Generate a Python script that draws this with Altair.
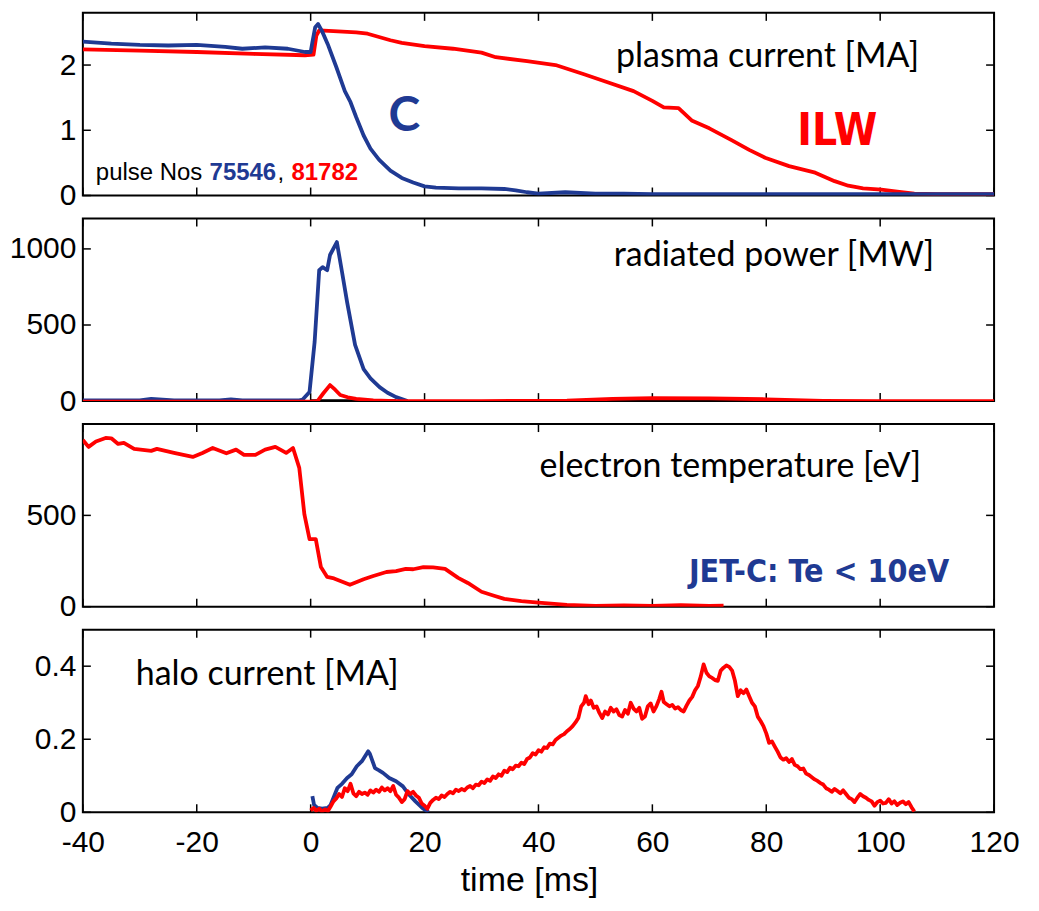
import altair as alt
import pandas as pd

# ---------------- data ----------------
x_ticks = [-40, -20, 0, 20, 40, 60, 80, 100, 120]

# plasma current [MA]
ip_c_t = [-40, -35, -30, -25, -20, -15, -12, -8, -4, -1, 0, 0.3, 0.8, 1.3, 2, 3, 4.5, 6, 7, 8, 9.3, 10.5,
          12, 14, 16, 18, 20, 22, 26, 30, 34, 36, 38, 40, 44.7, 50, 55, 60, 70, 80, 90, 100, 110, 120]
ip_c_v = [2.36, 2.33, 2.31, 2.30, 2.31, 2.28, 2.25, 2.27, 2.25, 2.20, 2.20, 2.35, 2.58, 2.63, 2.52, 2.32, 1.97,
          1.60, 1.43, 1.20, 0.92, 0.72, 0.55, 0.38, 0.27, 0.20, 0.14, 0.12, 0.11, 0.11, 0.10, 0.08, 0.05, 0.03,
          0.05, 0.03, 0.03, 0.02, 0.02, 0.02, 0.02, 0.02, 0.02, 0.02]
ip_w_t = [-40, -30, -20, -10, -1, 0.5, 1.0, 1.5, 4, 8, 10, 12, 14, 16, 20, 25, 30, 32.5, 38, 43, 48, 52, 56.7,
          60, 62, 64.6, 66.9, 70, 73.9, 77, 79.8, 84, 88.6, 92, 94.4, 97, 100.2, 103, 106, 110, 120]
ip_w_v = [2.24, 2.22, 2.20, 2.17, 2.15, 2.16, 2.45, 2.53, 2.52, 2.50, 2.48, 2.43, 2.38, 2.34, 2.29, 2.25, 2.19,
          2.12, 2.06, 2.00, 1.86, 1.74, 1.60, 1.45, 1.35, 1.34, 1.15, 1.03, 0.85, 0.70, 0.58, 0.45, 0.35, 0.22,
          0.15, 0.11, 0.09, 0.06, 0.03, 0.02, 0.02]

# radiated power [MW]
prad_c_t = [-40, -30, -28, -26, -24, -16, -14, -12, -2, -1.4, -0.2, 0.7, 1.5, 2.1, 2.9, 3.4, 4.6, 5.5, 6.4, 7.8,
            9.3, 10.5, 12.1, 13.5, 15, 17]
prad_c_v = [5, 5, 15, 10, 5, 5, 12, 5, 5, 10, 60, 390, 860, 880, 860, 960, 1045, 850, 650, 370, 210, 150, 92,
            55, 26, 0]
prad_w_t = [-40, -20, 0, 1.2, 2.2, 3.4, 4.3, 5.2, 6.5, 8, 11, 15, 30, 45, 53, 60, 70, 80, 90, 100, 120]
prad_w_v = [-3, -3, -3, 0, 50, 105, 75, 40, 25, 15, 5, 0, 0, 3, 15, 20, 18, 12, 2, 0, 0]
prad_k_t = [0, 15]
prad_k_v = [0, 0]

# electron temperature [eV]
te_w_t = [-40, -39, -37.7, -36, -35, -33.8, -32.8, -31, -28, -27, -24, -20.7, -19, -17.2, -14.8, -13.1, -11.7,
          -9.7, -8, -6.2, -4.3, -3.1, -2, -1.1, -0.2, 0.9, 1.8, 2.9, 4.1, 6.9, 9.3, 11, 13.3, 15, 16.7, 18,
          19.8, 21.5, 23.6, 25.9, 27.6, 30, 32.2, 34, 37, 40, 45, 50, 55, 60, 65, 70, 72.5]
te_w_v = [913, 875, 905, 924, 922, 891, 897, 864, 853, 864, 842, 820, 842, 869, 840, 860, 831, 831, 860, 875,
          842, 869, 760, 505, 370, 370, 217, 163, 155, 120, 150, 168, 190, 195, 207, 205, 217, 215, 207, 158,
          130, 82, 60, 43, 30, 22, 10, 5, 7, 5, 8, 5, 6]

# halo current [MA]
halo_c_t = [0.3, 0.6, 1.2, 2, 3, 3.5, 4.7, 5.5, 6.4, 7.2, 8.1, 9, 10.1, 10.4, 11.3, 12, 12.7, 13.8, 15, 16.2,
            17.3, 18.4, 19.6, 20.7]
halo_c_v = [0.044, 0.02, 0.012, 0.01, 0.012, 0.02, 0.067, 0.078, 0.094, 0.104, 0.126, 0.14, 0.167, 0.16, 0.121,
            0.115, 0.108, 0.094, 0.085, 0.071, 0.048, 0.03, 0.012, 0.0]
halo_w_t = [0, 0.5, 1, 1.5, 2, 2.5, 3, 3.5, 4, 4.5, 5, 5.5, 6, 6.5, 7, 7.5, 8, 8.5, 9, 9.5, 10, 10.5, 11, 11.5,
            12, 12.5, 13, 13.5, 14, 14.5, 15, 15.5, 16, 16.5, 17, 17.5, 18, 18.5, 19, 19.5, 20, 20.5, 21, 21.5,
            22, 22.5, 23, 23.5, 24, 24.5, 25, 25.5, 26, 26.5, 27, 27.5, 28, 28.5, 29, 29.5, 30, 30.5, 31, 31.5,
            32, 32.5, 33, 33.5, 34, 34.5, 35, 35.5, 36, 36.5, 37, 37.5, 38, 38.5, 39, 39.5, 40, 40.5, 41, 41.5,
            42, 42.5, 43, 43.5, 44, 44.5, 45, 45.5, 46, 46.5, 47, 47.5, 48, 48.3, 48.8, 49.2, 49.7, 50.2, 50.7,
            51.2, 51.7, 52.2, 52.7, 53.2, 53.7, 54.2, 54.7, 55.2, 55.7, 56.2, 56.7, 57.2, 57.7, 58.2, 58.7, 59.2,
            59.7, 60.2, 60.7, 61.2, 61.6, 62.0, 62.5, 63.0, 63.5, 64.0, 64.5, 65.0, 65.5, 66.0, 66.5, 67.0, 67.5,
            68.0, 68.5, 69.0, 69.5, 70.0, 70.5, 71.0, 71.5, 72.0, 72.5, 73.0, 73.5, 74.0, 74.5, 75.0, 75.5, 76.0,
            76.5, 77.0, 77.5, 78.0, 78.5, 79.0, 79.5, 80.0, 80.5, 81.0, 81.5, 82.0, 82.5, 83.0, 83.5, 84.0, 84.5,
            85.0, 85.5, 86.0, 86.5, 87.0, 87.5, 88.0, 88.5, 89.0, 89.5, 90.0, 90.5, 91.0, 91.5, 92.0, 92.5, 93.0,
            93.5, 94.0, 94.5, 95.0, 95.5, 96.0, 96.5, 97.0, 97.5, 98.0, 98.5, 99.0, 99.5, 100.0, 100.5, 101.0,
            101.5, 102.0, 102.5, 103.0, 103.5, 104.0, 104.5, 105.0, 105.5, 106.0]
halo_w_v = [0.005, 0.012, 0.004, 0.010, 0.002, 0.008, 0.003, 0.016, 0.030, 0.038, 0.050, 0.042, 0.066, 0.058,
            0.078, 0.052, 0.044, 0.056, 0.050, 0.054, 0.048, 0.060, 0.054, 0.062, 0.056, 0.068, 0.060, 0.066,
            0.058, 0.072, 0.048, 0.040, 0.028, 0.036, 0.058, 0.050, 0.056, 0.046, 0.040, 0.024, 0.018, 0.010,
            0.026, 0.034, 0.040, 0.036, 0.046, 0.042, 0.050, 0.056, 0.052, 0.062, 0.058, 0.064, 0.060, 0.068,
            0.072, 0.066, 0.076, 0.074, 0.084, 0.080, 0.090, 0.086, 0.098, 0.094, 0.104, 0.100, 0.114, 0.110,
            0.122, 0.118, 0.128, 0.126, 0.136, 0.132, 0.146, 0.150, 0.162, 0.158, 0.170, 0.166, 0.178, 0.176,
            0.188, 0.186, 0.198, 0.204, 0.210, 0.214, 0.222, 0.228, 0.236, 0.246, 0.258, 0.290, 0.300, 0.318,
            0.296, 0.306, 0.286, 0.290, 0.272, 0.258, 0.276, 0.268, 0.286, 0.276, 0.282, 0.266, 0.262, 0.280,
            0.270, 0.300, 0.284, 0.276, 0.286, 0.256, 0.262, 0.290, 0.298, 0.276, 0.290, 0.310, 0.330, 0.302,
            0.296, 0.290, 0.294, 0.284, 0.288, 0.280, 0.276, 0.292, 0.306, 0.316, 0.334, 0.346, 0.372, 0.405,
            0.382, 0.372, 0.368, 0.362, 0.360, 0.388, 0.396, 0.402, 0.398, 0.388, 0.360, 0.318, 0.334, 0.326,
            0.336, 0.318, 0.300, 0.290, 0.262, 0.250, 0.236, 0.216, 0.190, 0.194, 0.180, 0.166, 0.150, 0.144,
            0.148, 0.138, 0.146, 0.130, 0.126, 0.118, 0.120, 0.106, 0.102, 0.096, 0.090, 0.086, 0.080, 0.076,
            0.066, 0.062, 0.056, 0.064, 0.058, 0.052, 0.060, 0.050, 0.040, 0.036, 0.028, 0.040, 0.050, 0.044,
            0.040, 0.034, 0.030, 0.018, 0.028, 0.032, 0.024, 0.026, 0.036, 0.024, 0.030, 0.020, 0.026, 0.030,
            0.022, 0.028, 0.014, 0.002]

# ---------------- style ----------------
BLUE = "#1f3a93"
RED = "#ff0000"
W = 913
H = 183
AXFONT = "Liberation Sans, Arial, sans-serif"
TXFONT = "Lato, Open Sans, sans-serif"
NARROW = "DejaVu Sans Condensed, sans-serif"
TICK = 8
LW = 3.8

xscale = alt.Scale(domain=[-40, 120], nice=False, zero=False)


def panel(series, ydom, yticks, texts, bottom=False):
    yscale = alt.Scale(domain=ydom, nice=False, zero=False)
    yaxis = alt.Axis(values=yticks, ticks=False, domain=False, grid=False, labelFont=AXFONT,
                     labelFontSize=30, labelColor="black", labelPadding=7, labelOverlap=False,
                     labelExpr="'' + datum.value", title=None)
    if bottom:
        xaxis = alt.Axis(values=x_ticks, ticks=False, domain=False, grid=False, labelFont=AXFONT,
                         labelFontSize=30, labelColor="black", labelPadding=15, labelFlush=False,
                         labelOverlap=False, labelExpr="'' + datum.value",
                         title="time [ms]", titleFont=AXFONT, titleFontSize=34,
                         titleFontWeight="normal", titleColor="black", titlePadding=6,
                         titleX=447, titleAlign="center")
    else:
        xaxis = None
    layers = []
    xt = pd.DataFrame({"t": x_ticks})
    yt = pd.DataFrame({"v": yticks})
    layers.append(alt.Chart(xt).mark_rule(color="black", strokeWidth=1.5).encode(
        x=alt.X("t:Q", scale=xscale, axis=xaxis), y=alt.value(0), y2=alt.value(TICK)))
    layers.append(alt.Chart(xt).mark_rule(color="black", strokeWidth=1.5).encode(
        x=alt.X("t:Q", scale=xscale, axis=xaxis), y=alt.value(H), y2=alt.value(H - TICK)))
    layers.append(alt.Chart(yt).mark_rule(color="black", strokeWidth=1.5).encode(
        y=alt.Y("v:Q", scale=yscale, axis=yaxis), x=alt.value(0), x2=alt.value(TICK)))
    layers.append(alt.Chart(yt).mark_rule(color="black", strokeWidth=1.5).encode(
        y=alt.Y("v:Q", scale=yscale, axis=yaxis), x=alt.value(W), x2=alt.value(W - TICK)))
    for t, v, col in series:
        df = pd.DataFrame({"t": t, "v": v})
        layers.append(alt.Chart(df).mark_line(color=col, strokeWidth=LW, clip=True,
                                              strokeJoin="round").encode(
            x=alt.X("t:Q", scale=xscale, axis=xaxis),
            y=alt.Y("v:Q", scale=yscale, axis=yaxis)))
    for txt, px, py, size, col, font, weight, align in texts:
        layers.append(alt.Chart(pd.DataFrame({"s": [txt]})).mark_text(
            font=font, fontSize=size, color=col, fontWeight=weight, align=align,
            baseline="alphabetic").encode(text="s:N", x=alt.value(px), y=alt.value(py)))
    return alt.layer(*layers).properties(width=W, height=H)


p1 = panel(
    [(ip_w_t, ip_w_v, RED), (ip_c_t, ip_c_v, BLUE)], [0, 2.8], [0, 1, 2],
    [("plasma current [MA]", 838, 54, 34, "black", TXFONT, "normal", "right"),
     ("ILW", 756, 132, 44, RED, NARROW, "bold", "center"),
     ("C", 322, 118, 48, BLUE, TXFONT, "bold", "center"),
     ("pulse Nos", 13, 167, 24, "black", AXFONT, "normal", "left"),
     ("75546", 127, 167, 24, BLUE, AXFONT, "bold", "left"),
     (",", 195, 167, 24, "black", AXFONT, "normal", "left"),
     ("81782", 209, 167, 24, RED, AXFONT, "bold", "left")])
p2 = panel(
    [(prad_k_t, prad_k_v, "black"), (prad_c_t, prad_c_v, BLUE), (prad_w_t, prad_w_v, RED)],
    [0, 1200], [0, 500, 1000],
    [("radiated power [MW]", 853, 48, 34, "black", TXFONT, "normal", "right")])
p3 = panel(
    [(te_w_t, te_w_v, RED)], [0, 1000], [0, 500],
    [("electron temperature [eV]", 840, 53, 34, "black", TXFONT, "normal", "right"),
     ("JET-C: Te < 10eV", 868, 158, 32, BLUE, NARROW, "bold", "right")])
p4 = panel(
    [(halo_c_t, halo_c_v, BLUE), (halo_w_t, halo_w_v, RED)], [0, 0.5], [0, 0.2, 0.4],
    [("halo current [MA]", 53, 55, 34, "black", TXFONT, "normal", "left")], bottom=True)

chart = alt.vconcat(p1, p2, p3, p4, spacing=23, bounds="flush").properties(
    padding={"left": 0, "top": 2, "right": 10, "bottom": 5}
).configure_view(stroke="black", strokeWidth=2)

chart.save("out.html", embed_options={"renderer": "svg", "actions": False})
